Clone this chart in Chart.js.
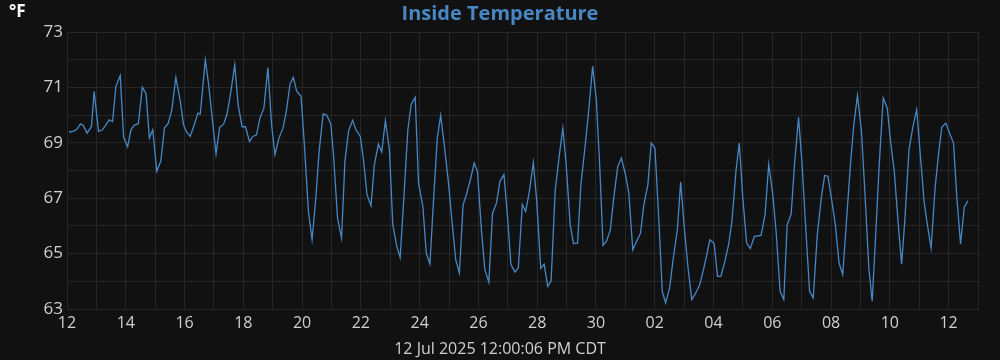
<!DOCTYPE html>
<html>
<head>
<meta charset="utf-8">
<script src="https://cdn.jsdelivr.net/npm/chart.js@4.4.1/dist/chart.umd.min.js"></script>
<style>
  html, body { margin: 0; padding: 0; background: #111111; }
  #wrap { width: 1000px; height: 360px; }
</style>
</head>
<body>
<div id="wrap"><canvas id="chart" width="1000" height="360"></canvas></div>
<script>
// days since 12 Jun 00:00
const days = [
  0.07, 0.21, 0.32, 0.457, 0.548, 0.685, 0.833, 0.924, 1.072, 1.197, 1.311, 1.437, 1.551, 1.664, 1.812, 1.927,
  2.063, 2.177, 2.28, 2.428, 2.564, 2.69, 2.803, 2.918, 3.054, 3.191, 3.316, 3.442, 3.567, 3.704, 3.852, 3.966,
  4.057, 4.193, 4.33, 4.456, 4.535, 4.706, 4.82, 5.071, 5.196, 5.333, 5.447, 5.561, 5.709, 5.823, 5.959,
  6.073, 6.21, 6.324, 6.449, 6.563, 6.7, 6.836, 6.962, 7.076, 7.212, 7.349, 7.463, 7.588, 7.702, 7.816, 7.964,
  8.078, 8.215, 8.34, 8.466, 8.579, 8.716, 8.841, 8.978, 9.069, 9.206, 9.343, 9.457, 9.582, 9.719, 9.833, 9.981,
  10.095, 10.208, 10.345, 10.459, 10.596, 10.71, 10.835, 10.972, 11.086, 11.223, 11.336, 11.462, 11.599, 11.713, 11.849, 11.963,
  12.111, 12.225, 12.35, 12.476, 12.601, 12.715, 12.851, 12.988, 13.102, 13.227, 13.353, 13.478, 13.592, 13.74, 13.854, 13.968,
  14.105, 14.218, 14.355, 14.481, 14.617, 14.731, 14.868, 14.993, 15.107, 15.244, 15.358, 15.494, 15.608, 15.734, 15.87, 15.984,
  16.121, 16.235, 16.36, 16.474, 16.611, 16.747, 16.873, 16.987, 17.123, 17.237, 17.374, 17.488, 17.636, 17.75, 17.887, 18.012,
  18.126, 18.24, 18.354, 18.49, 18.604, 18.741, 18.866, 19.003, 19.117, 19.254, 19.379, 19.516, 19.63, 19.767, 19.88, 20.006,
  20.142, 20.256, 20.37, 20.507, 20.632, 20.769, 20.883, 20.997, 21.134, 21.259, 21.396, 21.532, 21.658, 21.772, 21.874, 22.022,
  22.136, 22.25, 22.387, 22.512, 22.626, 22.763, 22.877, 22.991, 23.127, 23.252, 23.389, 23.617, 23.753, 23.879, 24.016,
  24.13, 24.266, 24.392, 24.506, 24.642, 24.756, 24.893, 25.007, 25.132, 25.269, 25.394, 25.531, 25.668, 25.782, 25.896, 26.01,
  26.146, 26.272, 26.397, 26.522, 26.659, 26.773, 26.898, 27.035, 27.149, 27.286, 27.399, 27.525, 27.638, 27.775, 27.912, 28.025,
  28.151, 28.288, 28.401, 28.515, 28.652, 28.777, 28.914, 29.028, 29.164, 29.278, 29.404, 29.54, 29.654, 29.768, 29.905, 30.03,
  30.167, 30.281, 30.406, 30.531, 30.656
];
// inside temperature, °F
const temps = [
  69.39, 69.41, 69.47, 69.68, 69.63, 69.35, 69.59, 70.86, 69.41, 69.46, 69.63, 69.83, 69.77, 71.04, 71.43, 69.20,
  68.86, 69.47, 69.63, 69.69, 71.01, 70.77, 69.17, 69.47, 67.97, 68.33, 69.53, 69.70, 70.19, 71.36, 70.52, 69.65,
  69.41, 69.23, 69.65, 70.07, 70.04, 72.00, 71.10, 68.60, 69.56, 69.68, 70.04, 70.74, 71.82, 70.38, 69.58,
  69.58, 69.05, 69.23, 69.29, 69.89, 70.25, 71.72, 69.65, 68.57, 69.17, 69.53, 70.13, 71.12, 71.36, 70.86, 70.68,
  68.93, 66.52, 65.50, 67.00, 68.69, 70.04, 69.99, 69.68, 68.57, 66.28, 65.56, 68.33, 69.44, 69.81, 69.47, 69.23,
  68.33, 67.13, 66.73, 68.21, 68.95, 68.67, 69.80, 68.75, 66.04, 65.26, 64.86, 67.00, 69.47, 70.39, 70.64, 67.54,
  66.70, 65.02, 64.62, 67.00, 69.17, 69.99, 68.81, 67.48, 66.16, 64.78, 64.30, 66.76, 67.13, 67.73, 68.27, 67.97,
  65.80, 64.42, 63.97, 66.46, 66.83, 67.61, 67.85, 66.28, 64.60, 64.33, 64.48, 66.77, 66.52, 67.25, 68.29, 66.89,
  64.46, 64.62, 63.82, 64.02, 67.25, 68.51, 69.53, 68.21, 66.04, 65.36, 65.38, 67.49, 68.93, 70.13, 71.76, 70.56,
  68.21, 65.30, 65.44, 65.86, 67.01, 68.15, 68.45, 67.85, 67.19, 65.14, 65.44, 65.74, 66.77, 67.49, 68.99, 68.81,
  66.16, 63.64, 63.22, 63.76, 64.84, 65.86, 67.58, 66.04, 64.48, 63.34, 63.58, 63.88, 64.42, 64.96, 65.50, 65.36,
  64.18, 64.18, 64.72, 65.32, 66.16, 67.97, 68.99, 67.10, 65.38, 65.18, 65.62, 65.66, 66.40, 68.23, 67.13,
  65.80, 63.64, 63.34, 66.04, 66.43, 68.21, 69.92, 68.33, 66.04, 63.64, 63.40, 65.68, 67.01, 67.82, 67.79, 67.01,
  66.04, 64.66, 64.24, 66.16, 68.21, 69.65, 70.71, 69.41, 67.25, 64.48, 63.28, 65.80, 68.21, 70.62, 70.26, 69.05,
  67.97, 66.04, 64.62, 66.28, 68.75, 69.53, 70.20, 68.69, 66.89, 66.04, 65.20, 67.37, 68.57, 69.56, 69.71, 69.35,
  68.99, 67.01, 65.35, 66.67, 66.91
];
// one label every two days, 12 Jun .. 12 Jul
const xTickLabels = ['12', '14', '16', '18', '20', '22', '24', '26', '28', '30', '02', '04', '06', '08', '10', '12'];
const yTickLabels = ['63', '65', '67', '69', '71', '73'];

const chartTitle = 'Inside Temperature';
const unitLabel = '°F';
const stampLabel = '12 Jul 2025 12:00:06 PM CDT';

const lineColor = '#4687c4';
const gridColor = '#262626';
const textColor = '#d0d0d0';

// background, unit, title and time stamp, centred on the whole canvas
const chrome = {
  id: 'chrome',
  beforeDraw(chart) {
    const ctx = chart.ctx;
    ctx.save();
    ctx.fillStyle = '#111111';
    ctx.fillRect(0, 0, chart.width, chart.height);
    ctx.restore();
  },
  afterDraw(chart) {
    const ctx = chart.ctx;
    ctx.save();
    ctx.textBaseline = 'middle';
    ctx.fillStyle = '#ffffff';
    ctx.font = 'bold 17px "Open Sans"';
    ctx.fillText(unitLabel, 9, 12);
    ctx.textAlign = 'center';
    ctx.fillStyle = lineColor;
    ctx.font = 'bold 20px "Open Sans"';
    ctx.fillText(chartTitle, chart.width / 2, 14);
    ctx.fillStyle = textColor;
    ctx.font = '16px "Open Sans"';
    ctx.fillText(stampLabel, chart.width / 2, 349.5);
    ctx.restore();
  }
};

new Chart(document.getElementById('chart'), {
  type: 'line',
  data: {
    datasets: [{
      label: chartTitle,
      data: days.map((d, i) => ({ x: d, y: temps[i] })),
      borderColor: lineColor,
      borderWidth: 1.3,
      pointRadius: 0,
      tension: 0,
      fill: false
    }]
  },
  options: {
    responsive: false,
    animation: false,
    layout: { padding: { top: 32, right: 22, bottom: 0, left: 0 } },
    plugins: {
      legend: { display: false },
      tooltip: { enabled: false },
      title: { display: false }
    },
    scales: {
      x: {
        type: 'linear',
        min: 0,
        max: 31,
        afterFit: (s) => { s.height = 51; },
        grid: { color: gridColor, drawTicks: false },
        border: { color: gridColor },
        ticks: {
          stepSize: 1,
          autoSkip: false,
          maxRotation: 0,
          padding: 5,
          color: textColor,
          font: { family: '"Open Sans"', size: 16 },
          callback: (v) => (v % 2 === 0 ? xTickLabels[v / 2] : '')
        }
      },
      y: {
        min: 63,
        max: 73,
        afterFit: (s) => { s.width = 67; },
        grid: { color: gridColor, drawTicks: false },
        border: { color: gridColor },
        ticks: {
          stepSize: 1,
          autoSkip: false,
          padding: 4,
          color: textColor,
          font: { family: '"Open Sans"', size: 17 },
          callback: (v) => (v % 2 === 1 ? yTickLabels[(v - 63) / 2] : '')
        }
      }
    }
  },
  plugins: [chrome]
});
</script>
</body>
</html>
